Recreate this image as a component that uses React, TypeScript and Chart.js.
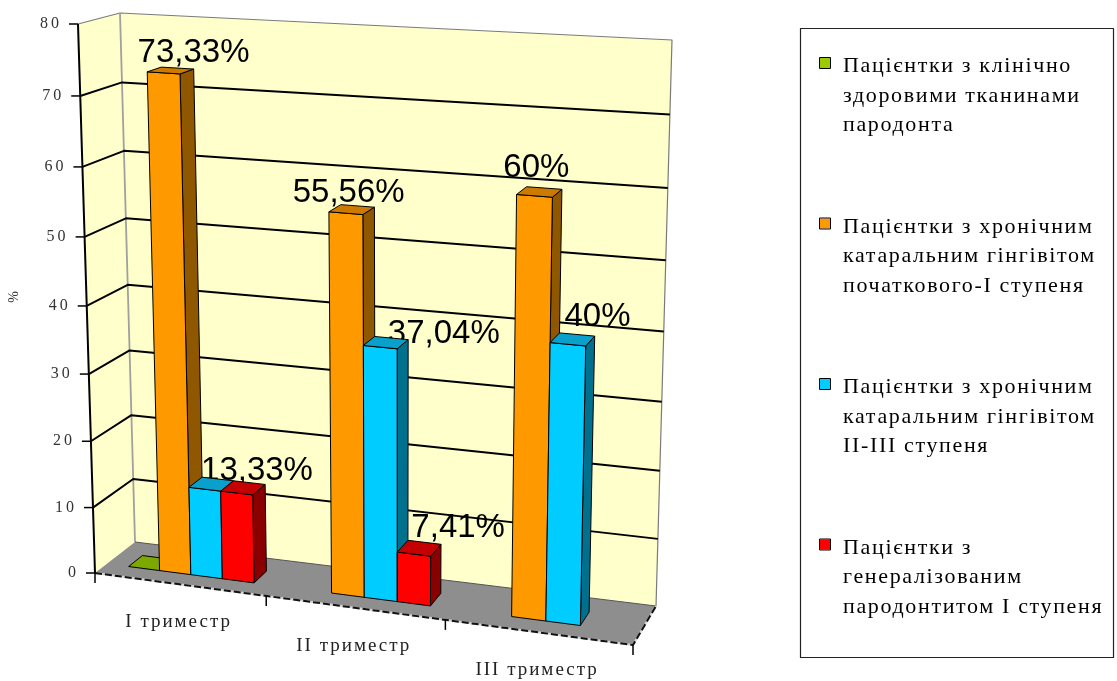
import React, { useEffect, useRef } from 'react';
import { Chart, registerables } from 'chart.js';

Chart.register(...registerables);

// ---- data ----
const trimesters = ['I триместр', 'II триместр', 'III триместр'];

const seriesNames = [
  ['Пацієнтки з клінічно', 'здоровими тканинами', 'пародонта'],
  ['Пацієнтки з хронічним', 'катаральним гінгівітом', 'початкового-I ступеня'],
  ['Пацієнтки з хронічним', 'катаральним гінгівітом', 'II-III ступеня'],
  ['Пацієнтки з', 'генералізованим', 'пародонтитом I ступеня'],
];

const healthyValues: (number | null)[] = [0, null, null];
const initialGingivitisValues: (number | null)[] = [73.33, 55.56, 60];
const advancedGingivitisValues: (number | null)[] = [13.33, 37.04, 40];
const periodontitisValues: (number | null)[] = [13.33, 7.41, null];

const valueTicks = [0, 10, 20, 30, 40, 50, 60, 70, 80];
const axisTitle = '%';

// bars that carry a value label
const labelledBars = [
  [false, false, false],
  [true, true, true],
  [false, true, true],
  [true, true, false],
];

// ---- styles ----
const frontColors = ['#99CC00', '#FF9900', '#00CCFF', '#FF0000'];
const topColors = ['#7CA800', '#CC7A00', '#0AA0CC', '#C40000'];
const sideColors = ['#5F8000', '#8F5800', '#00708F', '#8A0000'];

// label offsets [dx, dy] per series and category
const labelNudges = [
  [[0, 0], [0, 0], [0, 0]],
  [[23, 0], [-3, 0], [-3, -7]],
  [[0, 0], [58, 8], [25, -5]],
  [[14, 0], [39, -3], [0, 0]],
];

// screen corners of the 3-D box: p00 = left/bottom, p10 = right/bottom, p11 = right/top, p01 = left/top
const FRONT_PLANE = { p00: [95, 573], p10: [633, 645], p11: [647, 59], p01: [78, 24] };
const BACK_PLANE = { p00: [135, 542], p10: [656, 606], p11: [672, 40], p01: [120, 13] };
const BAR_Z0 = 0.3;
const BAR_Z1 = 0.65;

type Pt = [number, number];

function makeHomography(q: { p00: number[]; p10: number[]; p11: number[]; p01: number[] }) {
  const [x0, y0] = q.p00;
  const [x1, y1] = q.p10;
  const [x2, y2] = q.p11;
  const [x3, y3] = q.p01;
  const dx1 = x1 - x2, dx2 = x3 - x2, dx3 = x0 - x1 + x2 - x3;
  const dy1 = y1 - y2, dy2 = y3 - y2, dy3 = y0 - y1 + y2 - y3;
  const den = dx1 * dy2 - dx2 * dy1;
  const g = (dx3 * dy2 - dx2 * dy3) / den;
  const h = (dx1 * dy3 - dx3 * dy1) / den;
  const a = x1 - x0 + g * x1, b = x3 - x0 + h * x3, c = x0;
  const d = y1 - y0 + g * y1, e = y3 - y0 + h * y3, f = y0;
  return (u: number, w: number): Pt => {
    const s = g * u + h * w + 1;
    return [(a * u + b * w + c) / s, (d * u + e * w + f) / s];
  };
}

const frontMap = makeHomography(FRONT_PLANE);
const backMap = makeHomography(BACK_PLANE);

// u: along the category axis, v: along the value axis, z: depth (0 front .. 1 back)
function project(u: number, v: number, z: number): Pt {
  const f = frontMap(u, v);
  const b = backMap(u, v);
  return [f[0] + (b[0] - f[0]) * z, f[1] + (b[1] - f[1]) * z];
}

function formatPercent(v: number) {
  return Number.isInteger(v) ? `${v}%` : `${v.toFixed(2).replace('.', ',')}%`;
}

const box3dPlugin = {
  id: 'box3d',
  beforeDatasetsDraw(chart: any) {
    const ctx: CanvasRenderingContext2D = chart.ctx;
    const area = chart.chartArea;
    const xScale = chart.scales.x;
    const yScale = chart.scales.y;
    const yZero = yScale.getPixelForValue(valueTicks[0]);
    const yTop = yScale.getPixelForValue(valueTicks[valueTicks.length - 1]);
    const toU = (px: number) => (px - area.left) / (area.right - area.left);
    const toV = (py: number) => (yZero - py) / (yZero - yTop);
    const ls = (s: string) => { (ctx as any).letterSpacing = s; };

    const poly = (pts: Pt[], fill?: string, stroke?: string, lw = 1) => {
      ctx.beginPath();
      pts.forEach((p, i) => (i ? ctx.lineTo(p[0], p[1]) : ctx.moveTo(p[0], p[1])));
      ctx.closePath();
      if (fill) { ctx.fillStyle = fill; ctx.fill(); }
      if (stroke) { ctx.strokeStyle = stroke; ctx.lineWidth = lw; ctx.stroke(); }
    };
    const line = (pts: Pt[], stroke: string, lw: number, dash: number[] = []) => {
      ctx.beginPath();
      pts.forEach((p, i) => (i ? ctx.lineTo(p[0], p[1]) : ctx.moveTo(p[0], p[1])));
      ctx.setLineDash(dash);
      ctx.strokeStyle = stroke;
      ctx.lineWidth = lw;
      ctx.stroke();
      ctx.setLineDash([]);
    };

    ctx.save();
    ctx.lineJoin = 'round';

    // walls
    const wall = '#FFFFCC';
    poly([project(0, 0, 0), project(0, 0, 1), project(0, 1, 1), project(0, 1, 0)], wall);
    poly([project(0, 0, 1), project(1, 0, 1), project(1, 1, 1), project(0, 1, 1)], wall);
    line([project(0, 1, 0), project(0, 1, 1), project(1, 1, 1), project(1, 0, 1)], '#7a7a7a', 1.2);
    line([project(0, 0, 1), project(0, 1, 1)], '#a0a0a0', 1.8);

    // bar geometry from the chart's own elements
    const datasets = chart.data.datasets;
    const bars: any[] = [];
    for (let c = 0; c < trimesters.length; c++) {
      for (let d = 0; d < datasets.length; d++) {
        const value = datasets[d].data[c];
        if (value == null) continue;
        const el = chart.getDatasetMeta(d).data[c];
        bars.push({
          d, c, value,
          u0: toU(el.x - el.width / 2),
          u1: toU(el.x + el.width / 2),
          v0: toV(el.base),
          v1: toV(el.y),
        });
      }
    }

    // value labels sit on the back of the scene
    ctx.font = '33px "Liberation Sans", Arial, sans-serif';
    ctx.fillStyle = '#000';
    ctx.textAlign = 'center';
    ctx.textBaseline = 'alphabetic';
    bars.forEach((b) => {
      if (!labelledBars[b.d][b.c]) return;
      const a = project((b.u0 + b.u1) / 2, b.v1, (BAR_Z0 + BAR_Z1) / 2);
      const [dx, dy] = labelNudges[b.d][b.c];
      ctx.fillText(formatPercent(b.value), a[0] + dx, a[1] - 8 + dy);
    });

    // gridlines on the side and back walls
    valueTicks.forEach((t) => {
      if (t === valueTicks[0] || t === valueTicks[valueTicks.length - 1]) return;
      const v = toV(yScale.getPixelForValue(t));
      line([project(0, v, 0), project(0, v, 1), project(1, v, 1)], '#000', 2);
    });

    // floor
    const floor = [project(0, 0, 0), project(1, 0, 0), project(1, 0, 1), project(0, 0, 1)];
    poly(floor, '#8E8E8E');
    line([project(0, 0, 1), project(1, 0, 1)], '#555', 1);
    line([project(0, 0, 0), project(1, 0, 0), project(1, 0, 1)], '#d4d4d4', 2);
    line([project(0, 0, 0), project(1, 0, 0), project(1, 0, 1)], '#111', 2, [7, 3]);

    // bars, left to right
    bars.forEach((b) => {
      const { u0, u1, v0, v1, d } = b;
      const z0 = BAR_Z0, z1 = BAR_Z1;
      if (v1 > v0) {
        poly([project(u1, v0, z0), project(u1, v0, z1), project(u1, v1, z1), project(u1, v1, z0)], sideColors[d], '#000', 1);
        poly([project(u0, v0, z0), project(u1, v0, z0), project(u1, v1, z0), project(u0, v1, z0)], frontColors[d], '#000', 1);
      }
      poly([project(u0, v1, z0), project(u1, v1, z0), project(u1, v1, z1), project(u0, v1, z1)], topColors[d], '#000', 1);
    });

    // value axis on the front-left edge
    line([project(0, 0, 0), project(0, 1, 0)], '#000', 2);
    ctx.font = '16px "Liberation Serif", serif';
    ctx.fillStyle = '#333';
    ctx.textAlign = 'right';
    ctx.textBaseline = 'middle';
    ls('3px');
    valueTicks.forEach((t) => {
      const p = project(0, toV(yScale.getPixelForValue(t)), 0);
      line([[p[0] - 9, p[1]], p], '#000', 1.5);
      ctx.fillText(String(t), p[0] + 1 - 17, p[1]);
    });
    ls('0px');

    // axis title
    ctx.save();
    ctx.translate(14, 297);
    ctx.rotate(-Math.PI / 2);
    ctx.font = '14px "Liberation Serif", serif';
    ctx.textAlign = 'center';
    ctx.fillStyle = '#333';
    ctx.fillText(axisTitle, 0, 0);
    ctx.restore();

    // category axis: ticks at category boundaries, labels under centres
    const step = xScale.getPixelForValue(1) - xScale.getPixelForValue(0);
    for (let i = 0; i <= trimesters.length; i++) {
      const px = xScale.getPixelForValue(0) - step / 2 + i * step;
      const p = project(toU(px), 0, 0);
      line([p, [p[0], p[1] + 10]], '#000', 1.5);
    }
    ctx.font = '19px "Liberation Serif", serif';
    ctx.fillStyle = '#222';
    ctx.textAlign = 'center';
    ctx.textBaseline = 'middle';
    ls('2px');
    trimesters.forEach((label, i) => {
      const p = project(toU(xScale.getPixelForValue(i)), 0, 0);
      ctx.fillText(label, p[0] - 1, p[1] + 38);
    });
    ls('0px');

    // legend
    ctx.strokeStyle = '#222';
    ctx.lineWidth = 1.2;
    ctx.strokeRect(800.5, 28.5, 313, 629);
    ctx.font = '22px "Liberation Serif", serif';
    ctx.textAlign = 'left';
    ctx.textBaseline = 'alphabetic';
    ls('1.65px');
    seriesNames.forEach((lines, i) => {
      const base = 72 + i * 160.5;
      ctx.fillStyle = frontColors[i];
      ctx.fillRect(820, base - 14, 10, 10);
      ctx.strokeStyle = '#000';
      ctx.lineWidth = 1;
      ctx.strokeRect(819.5, base - 14.5, 11, 11);
      ctx.fillStyle = '#000';
      lines.forEach((t, k) => ctx.fillText(t, 843, base + k * 29.5));
    });
    ls('0px');

    ctx.restore();
    return false;
  },
};

export default function App() {
  const canvasRef = useRef<HTMLCanvasElement>(null);

  useEffect(() => {
    const seriesValues = [healthyValues, initialGingivitisValues, advancedGingivitisValues, periodontitisValues];
    const chart = new Chart(canvasRef.current as HTMLCanvasElement, {
      type: 'bar',
      data: {
        labels: trimesters,
        datasets: seriesValues.map((values, i) => ({
          label: seriesNames[i].join(' '),
          data: values,
          backgroundColor: frontColors[i],
          categoryPercentage: 0.74,
          barPercentage: 1,
        })),
      },
      options: {
        responsive: false,
        animation: false,
        devicePixelRatio: 1,
        layout: { padding: 0 },
        plugins: {
          legend: { display: false },
          tooltip: { enabled: false },
        },
        scales: {
          x: { display: false, offset: true },
          y: {
            display: false,
            min: valueTicks[0],
            max: valueTicks[valueTicks.length - 1],
            ticks: { stepSize: 10 },
          },
        },
      },
      plugins: [box3dPlugin],
    } as any);
    return () => chart.destroy();
  }, []);

  return (
    <div style={{ position: 'fixed', left: 0, top: 0, width: 1117, height: 681, background: '#fff' }}>
      <canvas ref={canvasRef} width={1117} height={681} style={{ display: 'block', width: 1117, height: 681 }} />
    </div>
  );
}
